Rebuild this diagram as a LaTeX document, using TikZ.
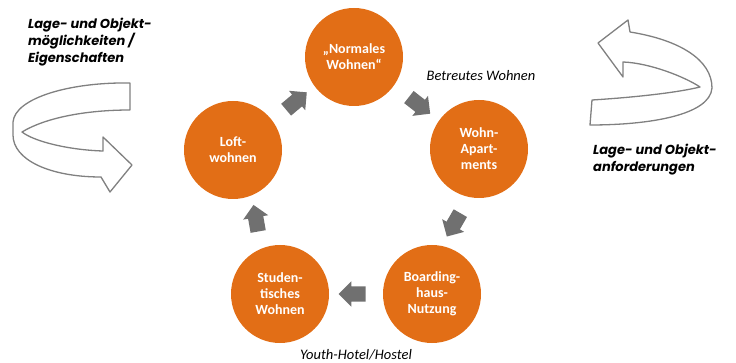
\documentclass[tikz,border=0pt]{standalone}
\usepackage{fontspec}
\newfontfamily\calibri{Carlito}
\newfontfamily\gothic{Poppins}
\usetikzlibrary{shapes.arrows,calc,positioning}
\definecolor{orng}{RGB}{226,110,22}
\definecolor{arrgray}{RGB}{112,112,112}
\definecolor{ribgray}{RGB}{128,128,128}

\begin{document}
\begin{tikzpicture}[x=1pt,y=-1pt,
    wf/.style={circle,minimum size=98pt,inner sep=0pt,fill=orng,text=white,align=center,
      font=\calibri\bfseries\fontsize{14}{16}\selectfont},
    blk/.style={single arrow,fill=arrgray,minimum height=27pt,inner xsep=0pt,inner ysep=7.5pt,
      single arrow head extend=5pt},
    lbl/.style={font=\calibri\itshape\fontsize{14.5}{17}\selectfont},
    big/.style={font=\gothic\bfseries\itshape\fontsize{13}{17}\selectfont,align=left,inner sep=0pt},
    rib/.style={draw=ribgray,line width=1.3pt,fill=white,line join=round}]
  \useasboundingbox (0,0) rectangle (736,363);

  \node[wf] (W1) at (354,57) {„Normales\\Wohnen“};
  \node[wf] (W2) at (479,149) {Wohn-\\Apart-\\ments};
  \node[wf] (W3) at (432,294) {Boarding-\\haus-\\Nutzung};
  \node[wf] (W4) at (280,294) {Studen-\\tisches\\Wohnen};
  \node[wf] (W5) at (233,150) {Loft-\\wohnen};

  \node[blk,rotate=40] (A1) at ($(W5)!0.5!(W1)$) {};
  \node[blk,rotate=-38] (A2) at ($(W1)!0.5!(W2)$) {};
  \node[blk,rotate=-120] (A3) at ($(W2)!0.5!(W3)$) {};
  \node[blk,rotate=180] (A4) at ($(W3)!0.5!(W4)$) {};
  \node[blk,rotate=100] (A5) at ($(W4)!0.5!(W5)$) {};

  \node[lbl] (T1) at (481,76) {Betreutes Wohnen};
  \node[lbl] (T2) at (356,355) {Youth-Hotel/Hostel};

  \node[big,anchor=north west] (L1) at (28,18) {Lage- und Objekt-\\möglichkeiten /\\Eigenschaften};
  \node[big,anchor=north west] (L2) at (593,144) {Lage- und Objekt-\\anforderungen};

  % ribbon arrows
  \draw[rib] (130,83) .. controls (70,82) and (15,98) .. (13,122) -- (13,135)
    .. controls (13,160) and (50,177) .. (101,177) -- (110,192) -- (132,165) -- (103,137) -- (103,151)
    .. controls (70,150) and (35,142) .. (22,132)
    .. controls (45,118) and (85,110) .. (130,110) -- cycle;
  \draw[rib] (592,100) .. controls (640,97) and (680,92) .. (700,87)
    .. controls (685,77) and (650,63) .. (623,62) -- (623,77) -- (598,43) -- (628,20) -- (630,32)
    .. controls (680,40) and (712,60) .. (712,88)
    .. controls (710,115) and (650,125) .. (590,125) -- cycle;
\end{tikzpicture}
\end{document}
